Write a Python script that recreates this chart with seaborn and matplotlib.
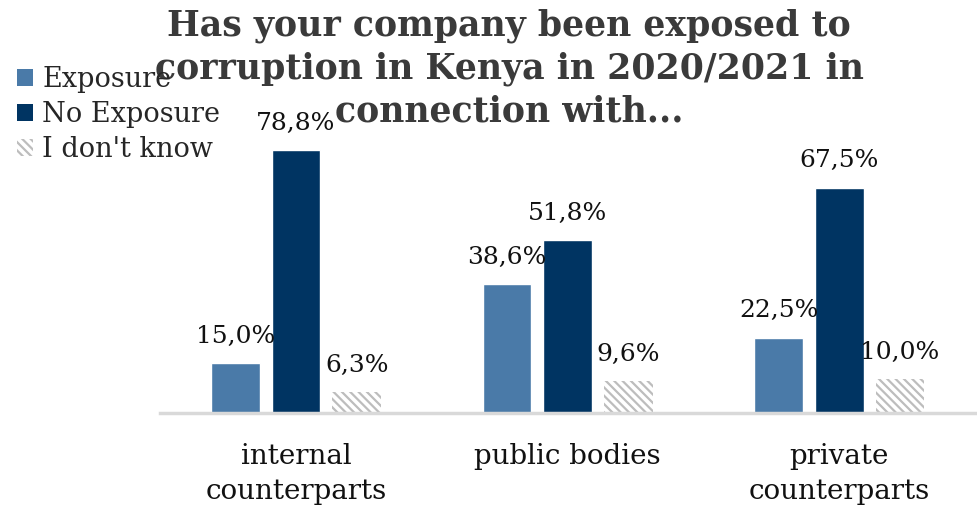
import matplotlib
matplotlib.use("Agg")
import matplotlib.pyplot as plt
import seaborn as sns
import pandas as pd
from matplotlib.patches import Patch

categories = ["internal\ncounterparts", "public bodies", "private\ncounterparts"]
series = ["Exposure", "No Exposure", "I don't know"]
exposure = [15.0, 38.6, 22.5]
no_exposure = [78.8, 51.8, 67.5]
dont_know = [6.3, 9.6, 10.0]

colors = {"Exposure": "#4a7aa8", "No Exposure": "#003462", "I don't know": "#ffffff"}
hatch_grey = "#bdbdbd"

rows = []
for name, vals in zip(series, [exposure, no_exposure, dont_know]):
    for cat, v in zip(categories, vals):
        rows.append({"category": cat, "series": name, "value": v})
df = pd.DataFrame(rows)

sns.set_style("white")
plt.rcParams["font.family"] = ["DejaVu Serif"]
plt.rcParams["hatch.linewidth"] = 1.6

fig = plt.figure(figsize=(9.77, 5.09), dpi=100)
ax = fig.add_axes([0.164, 0.189, 0.834, 0.59])

sns.barplot(data=df, x="category", y="value", hue="series", order=categories,
            hue_order=series, palette=colors, width=0.67, gap=0.2,
            ax=ax, legend=False, saturation=1)

# hatch the "I don't know" bars
for bar in ax.containers[2]:
    bar.set_hatch("\\\\\\\\")
    bar.set_edgecolor(hatch_grey)
    bar.set_linewidth(0)

for cont in ax.containers:
    labels = [f"{v:.1f}%".replace(".", ",") for v in cont.datavalues]
    ax.bar_label(cont, labels=labels, padding=11, fontsize=18, color="#111111")

ax.set_ylim(0, 90)
ax.set_xlim(-0.5, 2.5)
ax.set_xlabel("")
ax.set_ylabel("")
ax.set_yticks([])
ax.tick_params(axis="x", length=0, labelsize=20, pad=22, colors="#111111")
for lab in ax.get_xticklabels():
    lab.set_linespacing(1.38)
for s in ["top", "right", "left"]:
    ax.spines[s].set_visible(False)
ax.spines["bottom"].set_color("#d9d9d9")
ax.spines["bottom"].set_linewidth(2.5)

fig.text(0.521, 0.984, "Has your company been exposed to\ncorruption in Kenya in 2020/2021 in\nconnection with...",
         ha="center", va="top", fontsize=25, fontweight="bold", color="#3a3a3a",
         linespacing=1.32)

handles = [Patch(facecolor=colors["Exposure"], edgecolor="none"),
           Patch(facecolor=colors["No Exposure"], edgecolor="none"),
           Patch(facecolor="white", edgecolor=hatch_grey, hatch="\\\\\\\\", linewidth=0)]
fig.legend(handles, series, loc="upper left", bbox_to_anchor=(0.017, 0.871),
           frameon=False, fontsize=19.5, handlelength=0.6, handleheight=0.6,
           handletextpad=0.35, labelspacing=0.3, borderaxespad=0, borderpad=0)

fig.savefig("out.png", dpi=100)
